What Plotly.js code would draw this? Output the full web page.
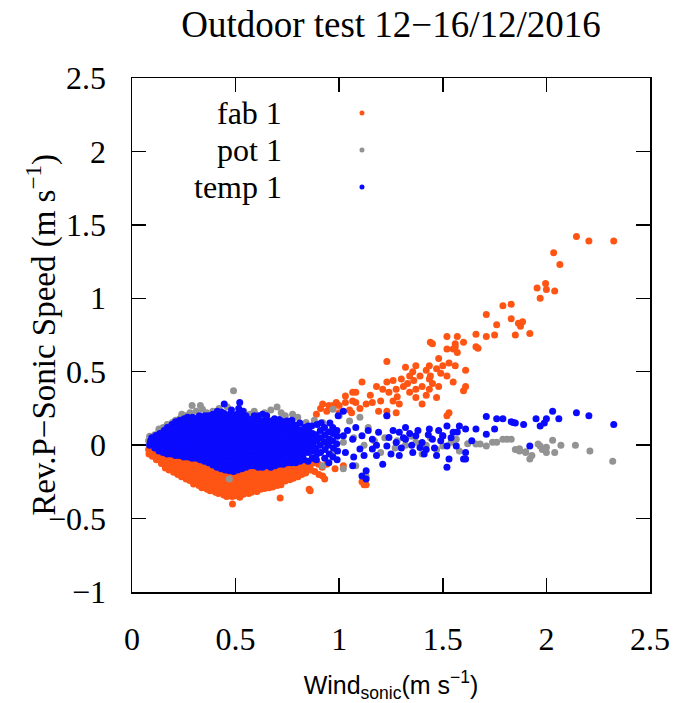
<!DOCTYPE html>
<html>
<head>
<meta charset="utf-8">
<script src="https://cdn.plot.ly/plotly-3.0.1.min.js"></script>
<style>html,body{margin:0;padding:0;background:#fff;}#chart{width:679px;height:703px;}</style>
</head>
<body>
<div id="chart"></div>
<script>
// ---- data ----
const seriesNames = ["fab 1", "pot 1", "temp 1"];
const xTickVals = [0, 0.5, 1, 1.5, 2, 2.5];
const yTickVals = [-1, -0.5, 0, 0.5, 1, 1.5, 2, 2.5];

// fab 1 : [wind_sonic, Rev.P - sonic]
const fabPts = [
[0.08,-0.03],[0.082,-0.06],[0.10,-0.04],[0.098,-0.075],
[0.12,-0.05],[0.122,-0.085],[0.118,-0.1],
[0.14,-0.06],[0.138,-0.09],[0.142,-0.125],
[0.16,-0.07],[0.162,-0.1],[0.158,-0.135],[0.161,-0.155],
[0.18,-0.07],[0.178,-0.105],[0.182,-0.14],[0.179,-0.17],
[0.20,-0.08],[0.202,-0.115],[0.198,-0.15],[0.201,-0.185],
[0.22,-0.08],[0.218,-0.115],[0.222,-0.15],[0.219,-0.185],[0.221,-0.2],
[0.24,-0.09],[0.242,-0.125],[0.238,-0.16],[0.241,-0.195],[0.239,-0.215],
[0.26,-0.09],[0.258,-0.125],[0.262,-0.16],[0.259,-0.195],[0.261,-0.23],
[0.28,-0.1],[0.282,-0.135],[0.278,-0.17],[0.281,-0.205],[0.279,-0.24],
[0.30,-0.1],[0.298,-0.135],[0.302,-0.17],[0.299,-0.205],[0.301,-0.24],[0.297,-0.265],
[0.32,-0.11],[0.322,-0.145],[0.318,-0.18],[0.321,-0.215],[0.319,-0.25],[0.323,-0.275],
[0.34,-0.12],[0.338,-0.155],[0.342,-0.19],[0.339,-0.225],[0.341,-0.26],[0.337,-0.29],
[0.36,-0.13],[0.362,-0.165],[0.358,-0.2],[0.361,-0.235],[0.359,-0.27],[0.363,-0.3],
[0.38,-0.14],[0.378,-0.175],[0.382,-0.21],[0.379,-0.245],[0.381,-0.28],[0.377,-0.31],
[0.40,-0.15],[0.402,-0.185],[0.398,-0.22],[0.401,-0.255],[0.399,-0.29],[0.403,-0.32],
[0.42,-0.16],[0.418,-0.195],[0.422,-0.23],[0.419,-0.265],[0.421,-0.3],[0.417,-0.33],
[0.44,-0.17],[0.442,-0.205],[0.438,-0.24],[0.441,-0.275],[0.439,-0.31],[0.443,-0.34],
[0.46,-0.18],[0.458,-0.215],[0.462,-0.25],[0.459,-0.285],[0.461,-0.32],[0.457,-0.35],
[0.48,-0.18],[0.482,-0.215],[0.478,-0.25],[0.481,-0.285],[0.479,-0.32],[0.483,-0.35],[0.485,-0.40],
[0.50,-0.18],[0.498,-0.215],[0.502,-0.25],[0.499,-0.285],[0.501,-0.32],[0.497,-0.345],
[0.52,-0.17],[0.522,-0.205],[0.518,-0.24],[0.521,-0.275],[0.519,-0.31],[0.523,-0.34],[0.52,-0.355],
[0.54,-0.16],[0.538,-0.195],[0.542,-0.23],[0.539,-0.265],[0.541,-0.3],[0.537,-0.335],
[0.56,-0.16],[0.562,-0.195],[0.558,-0.23],[0.561,-0.265],[0.559,-0.3],[0.563,-0.33],
[0.58,-0.15],[0.578,-0.185],[0.582,-0.22],[0.579,-0.255],[0.581,-0.29],[0.577,-0.32],
[0.60,-0.15],[0.602,-0.185],[0.598,-0.22],[0.601,-0.255],[0.599,-0.29],[0.603,-0.315],
[0.62,-0.16],[0.618,-0.195],[0.622,-0.23],[0.619,-0.265],[0.621,-0.3],
[0.64,-0.16],[0.642,-0.195],[0.638,-0.23],[0.641,-0.265],[0.639,-0.295],
[0.66,-0.16],[0.658,-0.195],[0.662,-0.23],[0.659,-0.265],[0.661,-0.29],
[0.68,-0.16],[0.682,-0.195],[0.678,-0.23],[0.681,-0.26],[0.679,-0.285],
[0.70,-0.15],[0.698,-0.185],[0.702,-0.22],[0.699,-0.255],[0.701,-0.275],
[0.72,-0.14],[0.722,-0.175],[0.718,-0.21],[0.721,-0.245],[0.719,-0.27],[0.715,-0.36],
[0.74,-0.14],[0.738,-0.175],[0.742,-0.21],[0.739,-0.245],
[0.76,-0.13],[0.762,-0.165],[0.758,-0.2],[0.761,-0.235],
[0.78,-0.13],[0.778,-0.165],[0.782,-0.2],[0.779,-0.225],
[0.80,-0.13],[0.802,-0.16],[0.798,-0.19],[0.801,-0.215],
[0.82,-0.12],[0.818,-0.15],[0.822,-0.18],[0.819,-0.2],
[0.84,-0.13],[0.842,-0.16],[0.838,-0.19],
[0.86,-0.14],[0.862,-0.17],[0.86,-0.31],[0.855,-0.30],
[0.88,-0.12],[0.882,-0.18],
[0.90,-0.13],[0.902,-0.2],
[0.92,-0.21],[0.918,-0.15],[0.93,-0.23],
[0.94,-0.13],[0.98,-0.16],[1.02,-0.14],
[1.11,-0.25],[1.13,-0.27],[1.12,-0.27],
[0.92,0.28],[0.95,0.27],[0.986,0.29],[1.03,0.335],[1.065,0.3],[1.08,0.36],[0.89,0.21],[1.0,0.22],
[0.94,0.23],[0.97,0.25],[1.05,0.24],[0.91,0.25],
[2.145,1.42],[2.205,1.39],[2.325,1.39],[2.035,1.31],[2.065,1.23],[1.955,1.07],[1.996,1.10],[2.0,1.06],
[2.04,1.05],[1.97,1.0],[1.79,0.95],[1.83,0.96],[1.71,0.89],[1.83,0.86],[1.865,0.83],[1.885,0.84],
[1.875,0.81],[1.76,0.82],[1.92,0.76],[1.85,0.75],[1.66,0.755],[1.71,0.74],[1.75,0.75],[1.66,0.67],
[1.67,0.66],[1.52,0.74],[1.57,0.74],[1.45,0.69],[1.56,0.69],[1.6,0.70],[1.55,0.655],[1.57,0.63],
[1.56,0.67],[1.23,0.57],[1.44,0.70],[1.52,0.655],
[1.48,0.59],[1.53,0.56],[1.50,0.54],[1.435,0.54],[1.47,0.52],[1.32,0.53],[1.37,0.54],[1.42,0.51],
[1.56,0.54],[1.61,0.51],[1.355,0.50],[1.39,0.47],[1.34,0.47],[1.52,0.47],[1.435,0.45],[1.55,0.43],
[1.61,0.40],[1.60,0.37],[1.40,0.40],[1.37,0.38],[1.31,0.40],[1.34,0.36],[1.275,0.38],[1.435,0.38],
[1.26,0.44],[1.23,0.43],[1.18,0.40],[1.21,0.38],[1.24,0.36],[1.11,0.43],[1.16,0.29],[1.13,0.28],
[1.08,0.29],[1.065,0.36],[1.03,0.29],[1.0,0.27],[0.97,0.27],[1.19,0.23],[1.23,0.23],[1.29,0.28],
[1.37,0.325],[1.47,0.325],[1.42,0.34],[1.40,0.28],[1.23,0.20],[1.275,0.22],[1.53,0.22],[1.52,0.20],
[1.3,0.45],[1.33,0.42],[1.45,0.42],[1.48,0.4],[1.44,0.47],[1.28,0.33],[1.26,0.3],[1.15,0.34],
[1.2,0.3],[1.36,0.44],[1.49,0.49],[1.1,0.25],[1.06,0.22]
];

// pot 1
const potPts = [
[0.08,0.03],[0.085,0.06],
[0.09,0.04],[0.11,0.07],[0.13,0.1],[0.13,0.11],[0.15,0.12],[0.17,0.14],[0.195,0.155],[0.21,0.17],
[0.23,0.18],[0.24,0.21],[0.26,0.2],[0.28,0.22],[0.29,0.27],[0.31,0.23],[0.33,0.27],[0.34,0.245],
[0.36,0.22],[0.37,0.2],[0.39,0.23],[0.42,0.25],[0.49,0.37],[0.46,0.26],[0.54,0.23],[0.57,0.21],
[0.59,0.23],[0.61,0.18],[0.64,0.22],[0.67,0.24],[0.70,0.26],[0.72,0.22],[0.74,0.2],[0.775,0.21],
[0.80,0.19],[0.84,0.155],[0.88,0.17],[0.92,0.155],[0.97,0.245],[1.0,0.2],[1.05,0.165],[1.10,0.19],
[0.63,-0.11],[0.68,-0.04],[0.775,-0.12],[0.92,-0.14],[1.02,-0.16],[1.08,-0.14],[1.13,-0.21],[0.47,-0.23],
[0.32,-0.06],[0.27,-0.05],[0.22,-0.04],[0.37,-0.08],[0.82,-0.09],[0.87,-0.07],[0.97,-0.05],
[0.12,0.0],[0.17,0.05],[0.22,0.08],[0.27,0.1],[0.32,0.12],[0.37,0.1],[0.42,0.05],[0.47,0.1],
[0.52,0.12],[0.57,0.08],[0.62,0.1],[0.67,0.05],[0.72,0.08],[0.77,0.05],[0.82,0.06],[0.87,0.02],
[0.92,0.04],[0.97,0.08],[1.02,0.02],[1.07,0.05],[1.12,0.0],[1.17,0.03],[1.22,0.05],[1.27,-0.02],
[1.32,0.0],[1.37,0.02],[1.42,0.0],[1.47,-0.03],[1.50,-0.005],[1.565,0.04],[1.58,-0.04],[1.14,0.12],
[1.2,-0.05],[1.28,0.03],[1.35,0.06],[1.40,-0.06],[1.44,0.05],[1.54,0.02],[1.62,0.01],
[1.66,0.007],[1.68,0.007],[1.71,-0.005],[1.74,0.02],[1.76,0.02],[1.79,0.04],[1.81,0.04],[1.83,0.04],
[1.85,-0.03],[1.87,-0.04],[1.87,-0.025],[1.90,-0.045],[1.90,-0.05],[1.92,-0.095],[1.93,-0.07],[1.96,0.007],
[1.97,-0.005],[1.98,-0.03],[2.0,-0.014],[2.0,-0.05],[2.03,0.034],[2.04,-0.05],[2.07,0.0],[2.14,0.0],
[2.21,-0.04],[2.32,-0.11]
];

// temp 1
const tempPts = [
[0.085,0.0],[0.09,0.03],[0.095,0.05],[0.088,0.015],
[0.11,-0.02],[0.108,0.01],[0.112,0.04],[0.115,0.065],
[0.13,-0.04],[0.128,-0.01],[0.132,0.02],[0.126,0.05],[0.134,0.08],
[0.15,-0.05],[0.148,-0.02],[0.153,0.01],[0.147,0.04],[0.151,0.07],[0.155,0.1],
[0.17,-0.06],[0.172,-0.03],[0.168,0.0],[0.171,0.03],[0.167,0.06],[0.173,0.09],[0.17,0.12],
[0.19,-0.06],[0.188,-0.03],[0.192,0.0],[0.189,0.035],[0.191,0.07],[0.187,0.1],[0.193,0.14],
[0.21,-0.07],[0.212,-0.04],[0.208,-0.01],[0.211,0.02],[0.209,0.055],[0.213,0.09],[0.207,0.12],[0.21,0.16],
[0.23,-0.07],[0.228,-0.035],[0.232,0.0],[0.229,0.035],[0.231,0.07],[0.227,0.1],[0.233,0.135],[0.23,0.17],
[0.25,-0.08],[0.252,-0.045],[0.248,-0.01],[0.251,0.02],[0.249,0.055],[0.253,0.09],[0.247,0.12],[0.25,0.155],[0.252,0.18],
[0.27,-0.08],[0.268,-0.045],[0.272,-0.01],[0.269,0.025],[0.271,0.06],[0.267,0.095],[0.273,0.13],[0.27,0.165],[0.268,0.19],
[0.29,-0.09],[0.292,-0.055],[0.288,-0.02],[0.291,0.015],[0.289,0.05],[0.293,0.085],[0.287,0.12],[0.29,0.155],[0.292,0.19],
[0.31,-0.09],[0.308,-0.055],[0.312,-0.02],[0.309,0.01],[0.311,0.045],[0.307,0.08],[0.313,0.115],[0.31,0.15],[0.308,0.18],
[0.33,-0.1],[0.332,-0.065],[0.328,-0.03],[0.331,0.005],[0.329,0.04],[0.333,0.075],[0.327,0.11],[0.33,0.145],[0.332,0.175],[0.325,0.2],
[0.35,-0.11],[0.348,-0.075],[0.352,-0.04],[0.349,-0.005],[0.351,0.03],[0.347,0.065],[0.353,0.1],[0.35,0.135],[0.348,0.17],[0.352,0.2],
[0.37,-0.12],[0.372,-0.085],[0.368,-0.05],[0.371,-0.015],[0.369,0.02],[0.373,0.055],[0.367,0.09],[0.37,0.125],[0.372,0.16],[0.368,0.2],
[0.39,-0.135],[0.388,-0.1],[0.392,-0.065],[0.389,-0.03],[0.391,0.005],[0.387,0.04],[0.393,0.075],[0.39,0.11],[0.388,0.145],[0.392,0.18],[0.39,0.21],
[0.41,-0.15],[0.412,-0.115],[0.408,-0.08],[0.411,-0.045],[0.409,-0.01],[0.413,0.025],[0.407,0.06],[0.41,0.095],[0.412,0.13],[0.408,0.165],[0.41,0.2],[0.412,0.23],
[0.43,-0.16],[0.428,-0.125],[0.432,-0.09],[0.429,-0.055],[0.431,-0.02],[0.427,0.015],[0.433,0.05],[0.43,0.085],[0.428,0.12],[0.432,0.155],[0.43,0.19],[0.432,0.225],
[0.45,-0.17],[0.452,-0.135],[0.448,-0.1],[0.451,-0.065],[0.449,-0.03],[0.453,0.005],[0.447,0.04],[0.45,0.075],[0.452,0.11],[0.448,0.145],[0.45,0.18],[0.445,0.215],[0.445,0.28],
[0.47,-0.175],[0.472,-0.14],[0.468,-0.105],[0.471,-0.07],[0.469,-0.035],[0.473,0.0],[0.467,0.035],[0.47,0.07],[0.472,0.105],[0.468,0.14],[0.47,0.175],[0.472,0.21],[0.48,0.24],
[0.49,-0.18],[0.488,-0.145],[0.492,-0.11],[0.489,-0.075],[0.491,-0.04],[0.487,-0.005],[0.493,0.03],[0.49,0.065],[0.488,0.1],[0.492,0.135],[0.49,0.17],[0.488,0.205],
[0.51,-0.17],[0.512,-0.135],[0.508,-0.1],[0.511,-0.065],[0.509,-0.03],[0.513,0.005],[0.507,0.04],[0.51,0.075],[0.512,0.11],[0.508,0.145],[0.51,0.18],[0.512,0.215],[0.52,0.29],[0.515,0.25],
[0.53,-0.16],[0.528,-0.125],[0.532,-0.09],[0.529,-0.055],[0.531,-0.02],[0.527,0.015],[0.533,0.05],[0.53,0.085],[0.528,0.12],[0.532,0.155],[0.53,0.19],[0.535,0.23],
[0.55,-0.15],[0.552,-0.115],[0.548,-0.08],[0.551,-0.045],[0.549,-0.01],[0.553,0.025],[0.547,0.06],[0.55,0.095],[0.552,0.13],[0.548,0.165],[0.55,0.2],
[0.57,-0.14],[0.572,-0.105],[0.568,-0.07],[0.571,-0.035],[0.569,0.0],[0.573,0.035],[0.567,0.07],[0.57,0.105],[0.572,0.14],[0.568,0.175],
[0.59,-0.14],[0.588,-0.105],[0.592,-0.07],[0.589,-0.035],[0.591,0.0],[0.587,0.035],[0.593,0.07],[0.59,0.105],[0.588,0.14],[0.592,0.175],[0.59,0.2],
[0.61,-0.15],[0.612,-0.115],[0.608,-0.08],[0.611,-0.045],[0.609,-0.01],[0.613,0.025],[0.607,0.06],[0.61,0.095],[0.612,0.13],[0.608,0.165],[0.61,0.2],
[0.63,-0.15],[0.628,-0.115],[0.632,-0.08],[0.629,-0.045],[0.631,-0.01],[0.627,0.025],[0.633,0.06],[0.63,0.095],[0.628,0.13],[0.632,0.165],[0.63,0.21],
[0.65,-0.14],[0.652,-0.105],[0.648,-0.07],[0.651,-0.035],[0.649,0.0],[0.653,0.035],[0.647,0.07],[0.65,0.105],[0.652,0.14],[0.648,0.175],[0.65,0.2],
[0.67,-0.15],[0.668,-0.115],[0.672,-0.08],[0.669,-0.045],[0.671,-0.01],[0.667,0.025],[0.673,0.06],[0.67,0.095],[0.668,0.13],[0.672,0.165],
[0.69,-0.14],[0.692,-0.1],[0.688,-0.065],[0.691,-0.03],[0.689,0.005],[0.693,0.04],[0.687,0.075],[0.69,0.11],[0.692,0.145],[0.688,0.18],
[0.71,-0.13],[0.708,-0.095],[0.712,-0.06],[0.709,-0.025],[0.711,0.01],[0.707,0.045],[0.713,0.08],[0.71,0.115],[0.708,0.15],[0.712,0.175],
[0.73,-0.13],[0.732,-0.09],[0.728,-0.055],[0.731,-0.02],[0.729,0.015],[0.733,0.05],[0.727,0.085],[0.73,0.12],[0.732,0.16],
[0.75,-0.12],[0.748,-0.085],[0.752,-0.05],[0.749,-0.015],[0.751,0.02],[0.747,0.055],[0.753,0.09],[0.75,0.125],[0.748,0.165],
[0.77,-0.12],[0.772,-0.08],[0.768,-0.045],[0.771,-0.01],[0.769,0.025],[0.773,0.06],[0.767,0.095],[0.77,0.13],[0.772,0.17],
[0.79,-0.12],[0.788,-0.08],[0.792,-0.04],[0.789,-0.005],[0.791,0.03],[0.787,0.065],[0.793,0.1],[0.79,0.135],
[0.81,-0.11],[0.812,-0.07],[0.808,-0.035],[0.811,0.0],[0.809,0.035],[0.813,0.07],[0.807,0.105],[0.81,0.15],
[0.83,-0.1],[0.828,-0.06],[0.832,-0.025],[0.829,0.01],[0.831,0.045],[0.827,0.08],[0.833,0.12],
[0.85,-0.11],[0.852,-0.05],[0.848,-0.015],[0.851,0.02],[0.849,0.06],[0.853,0.1],[0.85,0.13],
[0.87,-0.09],[0.868,-0.04],[0.872,0.0],[0.869,0.04],[0.871,0.08],[0.867,0.13],
[0.89,-0.1],[0.892,-0.06],[0.888,-0.02],[0.891,0.03],[0.889,0.07],[0.893,0.14],
[0.91,-0.05],[0.908,0.0],[0.912,0.05],[0.909,0.1],[0.913,0.15],
[0.93,-0.09],[0.932,-0.03],[0.928,0.02],[0.931,0.07],[0.929,0.12],
[0.95,-0.12],[0.952,-0.06],[0.948,0.0],[0.951,0.04],[0.949,0.09],[0.955,0.15],
[0.97,-0.08],[0.972,-0.02],[0.968,0.03],[0.971,0.08],[0.969,0.12],
[0.99,-0.1],[0.992,-0.04],[0.988,0.01],[0.991,0.06],[0.989,0.1],[0.995,0.2],
[1.02,0.23],[1.02,0.064],[1.065,0.04],[1.11,0.064],[1.16,0.04],[1.19,0.087],[1.24,0.052],[1.275,0.018],
[1.32,0.04],[1.37,0.064],[1.40,0.018],[1.45,0.04],[1.50,0.064],[1.52,-0.005],[1.10,-0.027],[1.16,-0.027],
[1.23,-0.005],[1.03,-0.05],[1.39,-0.016],[1.29,0.087],[1.23,0.2],[1.32,0.12],[1.435,0.11],[1.48,0.1],
[1.21,-0.13],[1.29,-0.07],[1.355,-0.05],[1.41,-0.06],[1.47,-0.07],[1.065,-0.14],[1.13,-0.175],[1.13,-0.23],
[1.11,-0.21],[1.52,-0.15],[1.60,-0.095],
[1.04,0.1],[1.08,0.12],[1.14,0.1],[1.18,0.0],[1.26,0.1],[1.30,-0.02],[1.34,0.08],[1.35,0.0],
[1.43,0.07],[1.46,-0.02],[1.07,-0.08],[1.12,-0.07],[1.18,-0.07],[1.25,-0.06],[1.31,0.05],[1.38,0.1],
[1.42,-0.03],[1.49,0.03],[1.54,0.05],[1.57,0.09],
[1.52,0.13],[1.58,0.13],[1.61,0.11],[1.55,0.087],[1.50,0.063],[1.565,-0.005],[1.61,-0.05],[1.53,-0.095],
[1.61,-0.095],[1.66,0.11],[1.71,0.075],[1.75,0.11],[1.71,0.195],[1.76,0.18],[1.79,0.18],[1.84,0.155],
[1.89,0.14],[1.95,0.18],[2.0,0.18],[1.92,-0.005],[1.97,0.13],[2.03,0.23],[2.06,0.18],[2.145,0.22],
[2.205,0.2],[2.325,0.14],[1.83,0.16],[1.85,0.15],[1.64,0.03],[1.99,0.15]
];

// ---- styles ----
const colors = ["#ff5514", "#939393", "#0a0aff"];
const serif = "Liberation Serif, Times New Roman, serif";
const sans = "Liberation Sans, Arial, sans-serif";

const allPts = [fabPts, potPts, tempPts];
const traces = allPts.map((pts, i) => ({
  type: "scatter",
  mode: "markers",
  name: seriesNames[i],
  x: pts.map(p => p[0]),
  y: pts.map(p => p[1]),
  marker: {color: colors[i], size: 7, line: {width: 0}},
  showlegend: false,
  hoverinfo: "skip"
}));

// legend drawn gnuplot-style: right-aligned text, marker to its right
const legRowsY = [0.932, 0.860, 0.788];
const annotations = seriesNames.map((n, i) => ({
  xref: "paper", yref: "paper", x: 0.294, y: legRowsY[i],
  xanchor: "right", yanchor: "middle", showarrow: false,
  text: n, font: {family: serif, size: 32, color: "#000"}
}));
// y-axis title (placed like the reference, partly over the tick labels)
annotations.push({
  xref: "paper", yref: "paper", x: -0.176, y: 0.5,
  xanchor: "center", yanchor: "middle", textangle: -90, showarrow: false,
  text: "Rev.P\u2212Sonic Speed (m s<sup>\u22121</sup>)",
  font: {family: serif, size: 33, color: "#000"}
});
const shapes = seriesNames.map((n, i) => ({
  type: "circle", xref: "paper", yref: "paper",
  xsizemode: "pixel", ysizemode: "pixel",
  xanchor: 0.444, yanchor: legRowsY[i],
  x0: -2.5, x1: 2.5, y0: -2.5, y1: 2.5,
  fillcolor: colors[i], line: {width: 0}
}));

const axisCommon = {
  ticks: "inside", ticklen: 14, tickwidth: 1.5, tickcolor: "#000",
  showline: true, linecolor: "#000", linewidth: 1.5, mirror: "allticks",
  showgrid: false, zeroline: false,
  tickfont: {family: serif, size: 32, color: "#000"},
  ticklabelstandoff: 18
};

const layout = {
  width: 679, height: 703,
  margin: {l: 132, r: 29, t: 78, b: 111},
  paper_bgcolor: "#fff", plot_bgcolor: "#fff",
  title: {
    text: "Outdoor test 12\u221216/12/2016",
    font: {family: serif, size: 37, color: "#000"},
    x: 0.5, xref: "paper", xanchor: "center",
    y: 0.966, yref: "container", yanchor: "middle"
  },
  xaxis: Object.assign({}, axisCommon, {
    range: [0, 2.5], tickvals: xTickVals,
    title: {text: "Wind<sub>sonic</sub>(m s<sup>\u22121</sup>)", font: {family: sans, size: 25, color: "#000"}, standoff: 20}
  }),
  yaxis: Object.assign({}, axisCommon, {
    range: [-1, 2.5], tickvals: yTickVals
  }),
  annotations: annotations,
  shapes: shapes
};

Plotly.newPlot("chart", traces, layout, {staticPlot: true, displayModeBar: false});
</script>
</body>
</html>
